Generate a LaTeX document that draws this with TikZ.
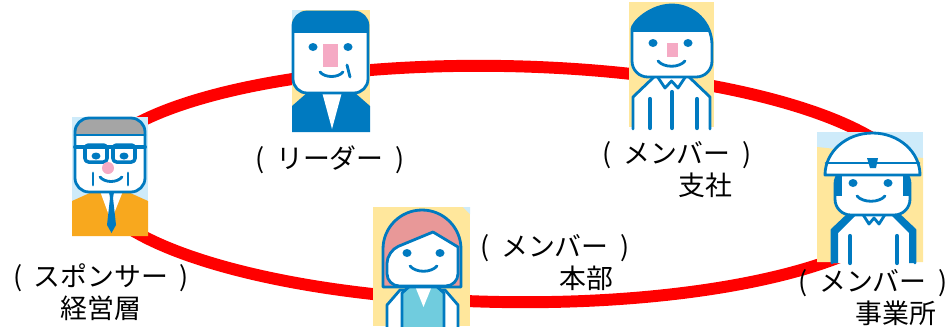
\documentclass[tikz,border=0pt]{standalone}
\usepackage{fontspec}
\usepackage{tikz}
\usepackage{xcolor}

\newfontfamily\jpfont{Noto Sans CJK JP}

\definecolor{ringred}{RGB}{255,0,0}
\definecolor{iconblue}{RGB}{0,122,192}
\definecolor{bgyellow}{RGB}{255,231,156}
\definecolor{bgblue}{RGB}{206,235,250}
\definecolor{hairgray}{RGB}{165,165,165}
\definecolor{nosepink}{RGB}{245,170,196}
\definecolor{suitorange}{RGB}{248,168,30}
\definecolor{hairpink}{RGB}{232,152,152}
\definecolor{vestblue}{RGB}{112,204,222}

\tikzset{
    roletext/.style={font=\jpfont\fontsize{15.3pt}{18pt}\selectfont, inner sep=0pt},
    outline/.style={draw=iconblue, line width=1.6pt, line join=round, line cap=round},
    eye/.style={fill=iconblue},
}

\newcommand{\rolename}[1]{(\hspace{0.42em}#1\hspace{0.42em})}

\begin{document}
\begin{tikzpicture}[x=0.02cm, y=-0.02cm]
    \clip (0,0) rectangle (946,326);
    \useasboundingbox (0,0) rectangle (946,326);

    % the ring behind everybody
    \draw[ringred, line width=6.8pt] (502,184) circle [x radius=412, y radius=118, rotate=-1];

    % sponsor (old man with glasses)
    \begin{scope}[shift={(72,117)}]
        \fill[bgblue] (0,0) rectangle (76,119);
        \fill[suitorange] (0,84) -- (20,75) -- (56,75) -- (76,84) -- (76,119) -- (0,119) -- cycle;
        \fill[white] (28,74) -- (51,74) -- (39,104) -- cycle;
        \fill[iconblue] (37,75) -- (42,75) -- (41,81) -- (44,108) -- (39.5,116) -- (35,108) -- (38,81) -- cycle;
        \fill[white, rounded corners=8pt] (3,1) rectangle (73,75);
        \begin{scope}
            \clip[rounded corners=8pt] (3,1) rectangle (73,75);
            \fill[hairgray] (0,0) rectangle (76,18);
        \end{scope}
        \draw[outline, rounded corners=8pt] (3,1) rectangle (73,75);
        \draw[outline] (3,18) -- (73,18);
        % glasses
        \draw[outline, line width=2.2pt] (3,30) -- (73,30);
        \draw[outline, line width=2pt, rounded corners=2pt] (13,28) rectangle (35,45);
        \draw[outline, line width=2pt, rounded corners=2pt] (41,28) rectangle (63,45);
        \fill[eye] (24,39) circle [x radius=4.5, y radius=3.5];
        \fill[eye] (52,39) circle [x radius=4.5, y radius=3.5];
        \fill[nosepink] (36,51) circle [radius=6];
        \draw[outline] (28,60) .. controls (33,66) and (45,66) .. (50,60);
        \draw[outline] (21,56) -- (21,68) (56,56) -- (56,68);
    \end{scope}

    % leader
    \begin{scope}[shift={(292,10)}]
        \fill[bgyellow] (0,0) rectangle (78,122);
        \fill[bgblue] (0,0) -- (10,0) -- (0,10) -- cycle;
        \fill[iconblue] (0,96) -- (16,82) -- (62,82) -- (78,96) -- (78,122) -- (0,122) -- cycle;
        \fill[white] (30,82) -- (50,82) -- (40,119) -- cycle;
        \fill[white, rounded corners=8pt] (1,2) rectangle (76,83);
        \begin{scope}
            \clip[rounded corners=8pt] (1,2) rectangle (76,83);
            \fill[iconblue] (0,0) rectangle (78,23);
        \end{scope}
        \draw[outline, rounded corners=8pt] (1,2) rectangle (76,83);
        \fill[eye] (21,37) circle [x radius=4.5, y radius=4];
        \fill[eye] (56,37) circle [x radius=4.5, y radius=4];
        \fill[nosepink] (31,34) rectangle (46,57);
        \draw[outline] (28,62) .. controls (33,68) and (46,68) .. (51,62);
        \draw[outline] (55,55) -- (58,67);
    \end{scope}

    % member, branch office
    \begin{scope}[shift={(629,2)}]
        \fill[bgyellow] (0,0) rectangle (85,125);
        \filldraw[outline, fill=white] (4,127) -- (4,95) -- (26,74) -- (59,74) -- (81,95) -- (81,127);
        \draw[outline] (28,74) -- (36,86) -- (42.5,79) -- (49,86) -- (57,74);
        \draw[outline, line width=2.4pt] (21,97) -- (21,126) (43,90) -- (43,126) (68,97) -- (68,126);
        \fill[white] (3,43) arc [start angle=180, end angle=360, radius=40] [rounded corners=9pt] -- (83,75) -- (3,75) -- cycle;
        \begin{scope}
            \clip (3,43) arc [start angle=180, end angle=360, radius=40] [rounded corners=9pt] -- (83,75) -- (3,75) -- cycle;
            \fill[iconblue] (0,0) rectangle (85,30);
        \end{scope}
        \draw[outline] (3,43) arc [start angle=180, end angle=360, radius=40] [rounded corners=9pt] -- (83,75) -- (3,75) -- cycle;
        \fill[eye] (24,41) circle [x radius=4.5, y radius=4];
        \fill[eye] (59,41) circle [x radius=4.5, y radius=4];
        \fill[nosepink] (38,41) rectangle (49,55);
        \draw[outline] (29,59) .. controls (35,66) and (50,66) .. (56,59);
    \end{scope}

    % member, work site (helmet)
    \begin{scope}[shift={(817,132)}]
        \fill[bgblue] (0,0) rectangle (106,130);
        \fill[bgyellow] (0,15) -- (106,26) -- (106,130) -- (0,130) -- cycle;
        \filldraw[outline, fill=white] (15,131) -- (15,98) -- (33,81) -- (80,81) -- (98,98) -- (98,131);
        \fill[iconblue] (15,98) -- (33,81) -- (38,84) -- (21,101) -- (21,131) -- (15,131) -- cycle;
        \fill[iconblue] (98,98) -- (80,81) -- (75,84) -- (92,101) -- (92,131) -- (98,131) -- cycle;
        \draw[outline] (45,81) -- (52,92) -- (57,86) -- (62,92) -- (69,81);
        \draw[outline, line width=2.4pt] (33,104) -- (33,131) (80,104) -- (80,131);
        \fill[white, rounded corners=9pt] (18,36) rectangle (93,83);
        \begin{scope}
            \clip[rounded corners=9pt] (18,36) rectangle (93,83);
            \fill[iconblue] (18,36) rectangle (25,64);
            \fill[iconblue] (86,36) rectangle (93,64);
        \end{scope}
        \draw[outline, rounded corners=9pt] (18,36) rectangle (93,83);
        \filldraw[outline, fill=white] (8,43) arc [start angle=180, end angle=360, x radius=47.5, y radius=42] -- cycle;
        \draw[outline] (9,31) -- (102,31);
        \fill[iconblue] (50,26) -- (61,26) -- (59,36) -- (53,36) -- cycle;
        \fill[eye] (36,51) circle [x radius=4.5, y radius=4];
        \fill[eye] (71,51) circle [x radius=4.5, y radius=4];
        \draw[outline] (40,64) .. controls (46,71) and (62,71) .. (68,64);
    \end{scope}

    % member, head office
    \begin{scope}[shift={(373,207)}]
        \fill[bgyellow] (0,0) rectangle (97,119);
        \fill[bgblue] (90,0) -- (97,0) -- (97,7) -- cycle;
        \filldraw[outline, fill=white] (14,121) -- (14,98) -- (27,83) -- (72,83) -- (85,98) -- (85,121);
        \filldraw[outline, fill=vestblue] (29,121) -- (29,86) -- (38,78) -- (62,78) -- (71,86) -- (71,121);
        \fill[white] (42,79) -- (59,79) -- (50.5,100) -- cycle;
        \filldraw[outline, fill=hairpink] (10,80) -- (10,42) arc [start angle=180, end angle=360, radius=39] -- (88,80) -- cycle;
        \filldraw[outline, fill=white, rounded corners=7pt] (14,44) [sharp corners] -- (60,25) -- (85,40) [rounded corners=7pt] -- (85,79) -- (14,79) -- cycle;
        \fill[eye] (34,46) circle [x radius=4.5, y radius=4];
        \fill[eye] (67,46) circle [x radius=4.5, y radius=4];
        \draw[outline] (37,59) .. controls (43,66) and (58,66) .. (64,59);
    \end{scope}

    % role names
    \node[roletext] (sponsor) at (101,278) {\rolename{スポンサー}};
    \node[roletext] (sponsorsub) at (101,308) {経営層};
    \node[roletext] (leader) at (330,160) {\rolename{リーダー}};
    \node[roletext] (branch) at (677,155) {\rolename{メンバー}};
    \node[roletext] (branchsub) at (705,185) {支社};
    \node[roletext] (head) at (555,248) {\rolename{メンバー}};
    \node[roletext] (headsub) at (586,278) {本部};
    \node[roletext] (site) at (873,283) {\rolename{メンバー}};
    \node[roletext] (sitesub) at (896,313) {事業所};
\end{tikzpicture}
\end{document}
